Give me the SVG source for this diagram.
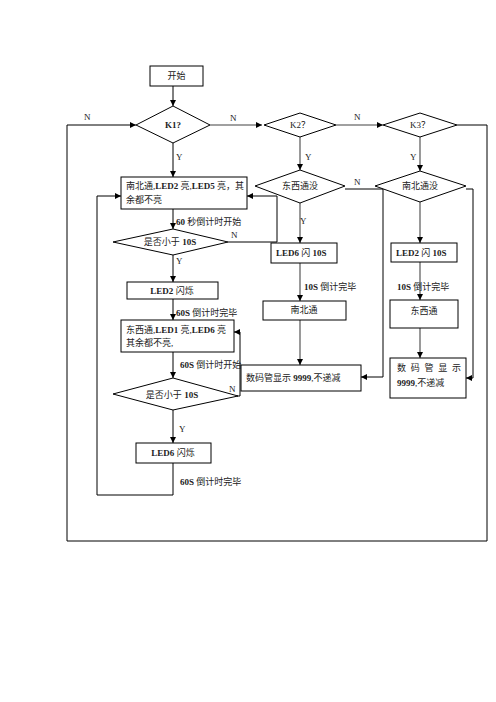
<svg xmlns="http://www.w3.org/2000/svg" width="496" height="702" viewBox="0 0 496 702">
<style>
.box{fill:#fff;stroke:#000;stroke-width:1}
.c{fill:none;stroke:#000;stroke-width:1}
.g{fill:none;stroke:#808080;stroke-width:1.6}
text{font-family:"Liberation Serif","Noto Sans CJK SC",serif;font-size:9px;fill:#222}
.m{text-anchor:middle}
.b{font-weight:bold}
</style>
<defs>
<marker id="a" markerUnits="userSpaceOnUse" markerWidth="7" markerHeight="6" refX="6" refY="3" orient="auto">
<path d="M0,0 L6,3 L0,6 Z" fill="#000"/>
</marker>
</defs>
<rect width="496" height="702" fill="#fff"/>
<g id="connectors">
<path class="c" d="M173,86 V106" marker-end="url(#a)"/>
<path class="g" d="M210,125 H262" marker-end="url(#a)"/>
<path class="g" d="M336,125 H383" marker-end="url(#a)"/>
<path class="c" d="M457,125 H487 V541 H67 V125 H136" marker-end="url(#a)"/>
<path class="c" d="M173,143 V177" marker-end="url(#a)"/>
<path class="g" d="M300,137 V170" marker-end="url(#a)"/>
<path class="g" d="M420,137 V171" marker-end="url(#a)"/>
<path class="c" d="M173,209 V229" marker-end="url(#a)"/>
<path class="c" d="M228,242 H277 V196 H247" marker-end="url(#a)"/>
<path class="c" d="M173,255 V282" marker-end="url(#a)"/>
<path class="c" d="M173,299 V320" marker-end="url(#a)"/>
<path class="c" d="M173,352 V378" marker-end="url(#a)"/>
<path class="c" d="M237,396 H240 V332 H234" marker-end="url(#a)"/>
<path class="c" d="M173,410 V443" marker-end="url(#a)"/>
<path class="c" d="M173,463 V495 H97 V196 H121" marker-end="url(#a)"/>
<path class="g" d="M300,203 V243" marker-end="url(#a)"/>
<path class="g" d="M300,263 V301" marker-end="url(#a)"/>
<path class="g" d="M300,320 V365" marker-end="url(#a)"/>
<path class="c" d="M345,189 H383 V377 H361" marker-end="url(#a)"/>
<path class="g" d="M420,202 V243" marker-end="url(#a)"/>
<path class="g" d="M420,262 V300" marker-end="url(#a)"/>
<path class="g" d="M420,328 V358" marker-end="url(#a)"/>
<path class="c" d="M466,189 H473 V378 H466" marker-end="url(#a)"/>
</g>
<g id="labels">
<text x="84" y="120">N</text>
<text x="230" y="121">N</text>
<text x="176" y="160">Y</text>
<text x="354" y="120">N</text>
<text x="305" y="160">Y</text>
<text x="410" y="160">Y</text>
<text x="354" y="185">N</text>
<text x="176" y="225"><tspan class="b">60</tspan> 秒倒计时开始</text>
<text x="231" y="238">N</text>
<text x="176" y="264">Y</text>
<text x="176" y="316"><tspan class="b">60S</tspan> 倒计时完毕</text>
<text x="180" y="368"><tspan class="b">60S</tspan> 倒计时开始</text>
<text x="229" y="392">N</text>
<text x="179" y="432">Y</text>
<text x="180" y="485"><tspan class="b">60S</tspan> 倒计时完毕</text>
<text x="300" y="224">Y</text>
<text x="304" y="290"><tspan class="b">10S</tspan> 倒计完毕</text>
<text x="397" y="290"><tspan class="b">10S</tspan> 倒计完毕</text>
</g>
<g id="start"><rect class="box" x="150" y="66" width="53" height="20"/><text class="m" x="176.5" y="79">开始</text></g>
<g id="k1"><polygon class="box" points="136,125 173,106 210,125 173,143"/><text class="m b" x="173" y="128">K1?</text></g>
<g id="k2"><polygon class="box" points="264,125 300,113 336,125 300,137"/><text class="m" x="300" y="128">K2？</text></g>
<g id="k3"><polygon class="box" points="383,125 420,113 457,125 420,137"/><text class="m" x="420" y="128">K3？</text></g>
<g id="ew-check"><polygon class="box" points="255,186 300,170 345,186 300,203"/><text class="m" x="300" y="189">东西通没</text></g>
<g id="ns-check"><polygon class="box" points="375,186 420,171 466,186 420,202"/><text class="m" x="420" y="189">南北通没</text></g>
<g id="ns-on"><rect class="box" x="121" y="177" width="126" height="32"/><text x="126" y="189">南北通,<tspan class="b">LED2</tspan> 亮,<tspan class="b">LED5</tspan> 亮，其</text><text x="126" y="203">余都不亮</text></g>
<g id="lt10-1"><polygon class="box" points="113,242 173,229 228,242 173,255"/><text class="m" x="170" y="245">是否小于  <tspan class="b">10S</tspan></text></g>
<g id="led2-blink"><rect class="box" x="127" y="282" width="91" height="17"/><text class="m" x="172" y="294"><tspan class="b">LED2</tspan> 闪烁</text></g>
<g id="ew-on"><rect class="box" x="121" y="320" width="113" height="32"/><text x="126" y="333">东西通,<tspan class="b">LED1</tspan> 亮,<tspan class="b">LED6</tspan> 亮</text><text x="126" y="346">其余都不亮,</text></g>
<g id="lt10-2"><polygon class="box" points="113,394 173,378 238,396 173,410"/><text class="m" x="172" y="398">是否小于  <tspan class="b">10S</tspan></text></g>
<g id="led6-blink"><rect class="box" x="136" y="443" width="75" height="20"/><text class="m" x="173" y="456"><tspan class="b">LED6</tspan> 闪烁</text></g>
<g id="led6-10s"><rect class="box" x="271" y="243" width="66" height="20"/><text x="276" y="256"><tspan class="b">LED6</tspan> 闪 <tspan class="b">10S</tspan></text></g>
<g id="ns-pass"><rect class="box" x="263" y="301" width="83" height="19"/><text class="m" x="304" y="313">南北通</text></g>
<g id="display1"><rect class="box" x="241" y="365" width="120" height="26"/><text x="246" y="381">数码管显示 <tspan class="b">9999</tspan>,不递减</text></g>
<g id="led2-10s"><rect class="box" x="391" y="243" width="66" height="19"/><text x="396" y="256"><tspan class="b">LED2</tspan> 闪 <tspan class="b">10S</tspan></text></g>
<g id="ew-pass"><rect class="box" x="390" y="300" width="68" height="28"/><text class="m" x="424" y="314">东西通</text></g>
<g id="display2"><rect class="box" x="390" y="358" width="76" height="40"/><text x="397" y="371" textLength="64" lengthAdjust="spacing">数码管显示</text><text x="397" y="386"><tspan class="b">9999</tspan>,不递减</text></g>
</svg>
